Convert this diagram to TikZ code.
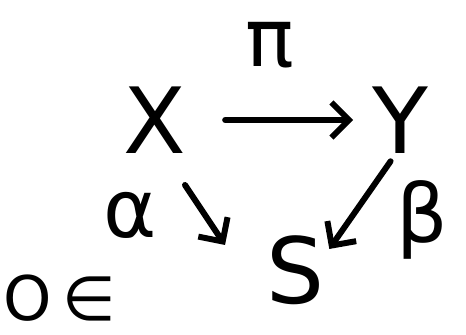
\documentclass[tikz,border=0pt]{standalone}
\usepackage{fontspec}
\setmainfont{DejaVu Sans}
\usepackage{tikz}
\usetikzlibrary{arrows.meta,calc,positioning}
\tikzset{
  obj/.style={font=\fontsize{52}{56}\selectfont,inner sep=2pt},
  lbl/.style={font=\fontsize{46}{50}\selectfont,inner sep=1pt},
  map/.style={line width=3.4pt,line cap=round,-{Straight Barb[length=10pt,width=20pt,line width=3.4pt]}},
}
\begin{document}
\begin{tikzpicture}[x=1cm,y=1cm]
  \useasboundingbox (0,0) rectangle (9.32,6.7);
  % objects
  \node[obj] (X) at (3.1,4.3) {X};
  \node[obj] (Y) at (8.0,4.3) {Y};
  \node[obj] (S) at (5.9,1.3) {S};
  % labels
  \node[lbl] (pi) at (5.4,5.8) {π};
  \node[lbl] (al) at (2.6,2.4) {α};
  \node[lbl] (be) at (8.45,2.3) {β};
  \node[font=\fontsize{35}{38}\selectfont,inner sep=1pt] (el) at (1.2,0.74) {O\,∈};
  % ends of the X--S arrow
  \coordinate (xs) at ($(X)+(0.6,-1.3)$);
  \coordinate (sx) at ($(S)+(-1.4,0.5)$);
  % arrows
  \draw[map,shorten <=0.7cm,shorten >=0.3cm] (X.east) -- (Y.west);
  \draw[map] (xs) -- (sx);
  \draw[map,shorten <=0.1cm,shorten >=0.05cm] (Y.-100) -- (S.30);
\end{tikzpicture}
\end{document}
